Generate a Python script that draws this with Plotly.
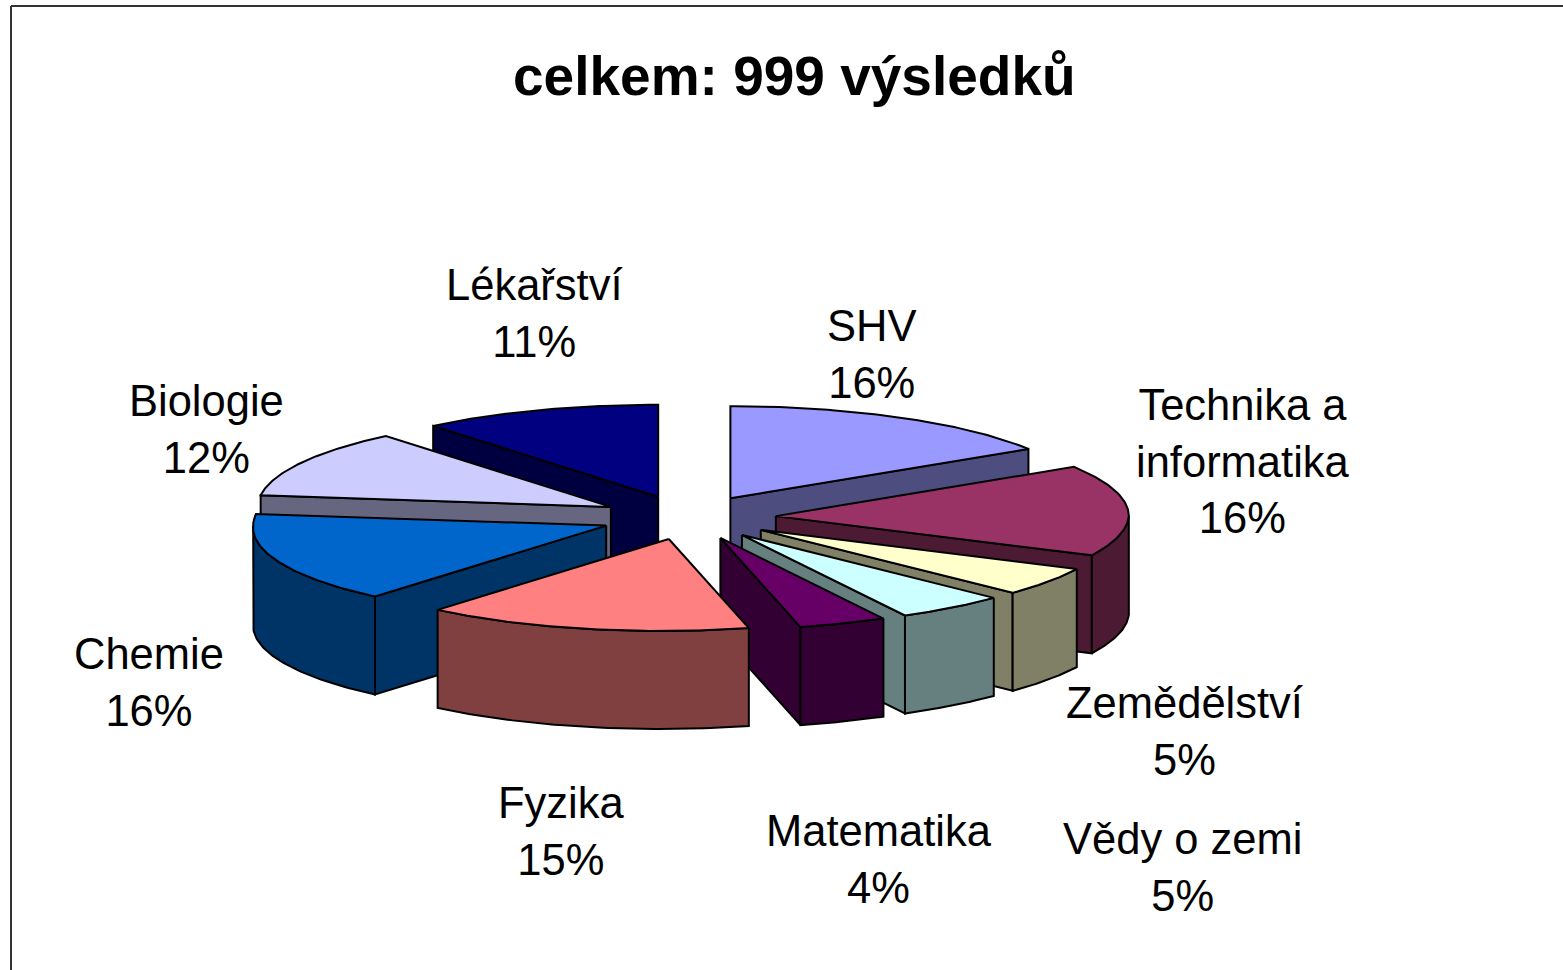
import numpy as np
import plotly.graph_objects as go

TITLE = "celkem: 999 výsledků"
categories = ["SHV", "Technika a<br>informatika", "Zemědělství", "Vědy o zemi", "Matematika",
              "Fyzika", "Chemie", "Biologie", "Lékařství"]
values = [16, 16, 5, 5, 4, 15, 16, 12, 11]
top_colors = ["#9999FF", "#993366", "#FFFFCC", "#CCFFFF", "#660066",
              "#FF8080", "#0066CC", "#CCCCFF", "#000080"]
side_colors = ["#4D4D80", "#4D1A33", "#808066", "#668080", "#330033",
               "#804040", "#003366", "#666680", "#000040"]
label_x = [871, 1243, 1184, 1182, 879, 561, 149, 206, 534]
label_y = [354, 461, 731, 867, 859, 831, 682, 429, 313]

W, H = 1563, 970
CX, CY, RX, RY, EX, EY, DEPTH, SKEW = 688, 517.5, 353, 92, 88, 22, 98, 8
LINE = dict(color="#000000", width=2)

fig = go.Figure()


def poly(xs, ys, fill):
    fig.add_trace(go.Scatter(x=list(xs) + [xs[0]], y=list(ys) + [ys[0]], mode="lines", fill="toself",
                             fillcolor=fig_fill(fill), line=LINE, hoverinfo="skip", showlegend=False))


def fig_fill(c):
    return c


total = sum(values)
edges = np.cumsum([0] + values) / total * 360.0
mids = (edges[:-1] + edges[1:]) / 2
order = np.argsort(-np.cos(np.radians(mids)))

for i in order:
    a, b, m = edges[i], edges[i + 1], np.radians(mids[i])
    ax, ay = CX + EX * np.sin(m), CY - EY * np.cos(m)

    def outer(t):
        r = np.radians(t)
        return ax + RX * np.sin(r) + SKEW * np.minimum(np.cos(r), 0), ay - RY * np.cos(r)

    # visible faces: cut at the start, cut at the end, outer wall
    if np.sin(np.radians(a)) < 0:
        ox, oy = outer(a)
        poly([ax, ox, ox, ax], [ay, oy, oy + DEPTH, ay + DEPTH], side_colors[i])
    if np.sin(np.radians(b)) > 0:
        ox, oy = outer(b)
        poly([ax, ox, ox, ax], [ay, oy, oy + DEPTH, ay + DEPTH], side_colors[i])
    lo, hi = max(a, 90.0), min(b, 270.0)
    if hi > lo:
        t = np.linspace(lo, hi, 60)
        ox, oy = outer(t)
        poly(list(ox) + list(ox[::-1]), list(oy) + list(oy[::-1] + DEPTH), side_colors[i])
    t = np.linspace(a, b, 80)
    ox, oy = outer(t)
    poly([ax] + list(ox), [ay] + list(oy), top_colors[i])

FONT = "Liberation Sans, Arial, sans-serif"
for name, v, x, y in zip(categories, values, label_x, label_y):
    fig.add_annotation(x=x, y=y, xref="x", yref="y", text=f"{name}<br>{v}%", showarrow=False,
                       xanchor="center", yanchor="middle", align="center",
                       font=dict(family=FONT, size=43.5, color="#000000"))

fig.add_annotation(x=794, y=76, xref="x", yref="y", text=f"<b>{TITLE}</b>", showarrow=False,
                   xanchor="center", yanchor="middle", font=dict(family=FONT, size=55, color="#000000"))

# chart frame
fig.add_shape(type="line", x0=11, x1=11, y0=6, y1=H, xref="x", yref="y", line=dict(color="#333333", width=2))
fig.add_shape(type="line", x0=11, x1=W, y0=6, y1=6, xref="x", yref="y", line=dict(color="#333333", width=2))

fig.update_layout(width=W, height=H, margin=dict(l=0, r=0, t=0, b=0), paper_bgcolor="#FFFFFF",
                  plot_bgcolor="#FFFFFF", showlegend=False,
                  xaxis=dict(visible=False, range=[0, W], fixedrange=True),
                  yaxis=dict(visible=False, range=[H, 0], fixedrange=True))
fig.write_html("out.html", config={"displayModeBar": False},
               post_script="document.body.style.margin='0';document.body.style.overflow='hidden';")
